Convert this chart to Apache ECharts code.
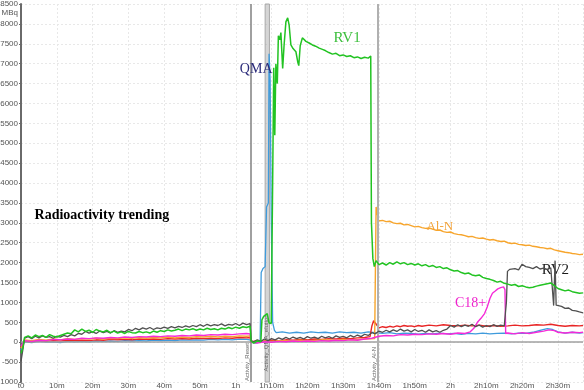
<!DOCTYPE html>
<html><head><meta charset="utf-8">
<script src="https://cdn.jsdelivr.net/npm/echarts@6.0.0/dist/echarts.min.js"></script>
<style>html,body{margin:0;padding:0;background:#fff}#c{width:584px;height:390px}</style>
</head><body><div id="c"></div>
<script>
// x in minutes since t0, y in MBq
const xTickLabels = ['t0','10m','20m','30m','40m','50m','1h','1h10m','1h20m','1h30m','1h40m','1h50m','2h','2h10m','2h20m','2h30m'];

const rv1 = [[0,-280],[0.5,-150],[1,120],[2,160],[3,110],[4,180],[5,140],[6,170],[7,120],[8,190],[9,150],[10,130],[11,170],[12,200],[13,230],[14,210],[15,310],[16,260],[17,330],[18,270],[19,300],[20,250],[21,320],[22,280],[23,260],[24,300],[25,240],[26,280],[27,230],[28,260],[29,220],[30,270],[31,240],[32,230],[33,270],[34,240],[35,260],[36,230],[37,280],[38,250],[39,290],[40,270],[41,310],[42,280],[43,300],[44,330],[45,290],[46,330],[47,310],[48,340],[49,300],[50,330],[51,310],[52,350],[53,320],[54,340],[55,310],[56,350],[57,330],[58,370],[59,340],[60,380],[61,350],[62,390],[63,370],[64,400],[64.3,20],[65,-20],[66,30],[67,10],[67.3,560],[67.8,650],[68.3,600],[68.8,720],[69.3,480],[69.9,470],[70.3,4000],[70.6,6900],[70.9,5200],[71.2,7000],[71.6,6500],[71.9,7700],[72.3,7600],[72.6,7780],[73.1,6880],[73.5,7470],[74,8050],[74.5,8150],[74.9,7975],[75.4,7470],[76,7380],[76.8,7300],[77.3,7050],[77.6,6950],[78,7450],[78.6,7650],[79.6,7560],[80.5,7520],[81.4,7470],[82.3,7440],[83.3,7390],[84.2,7360],[85,7330],[86,7280],[87,7240],[88,7260],[89,7200],[90,7220],[91,7180],[92,7200],[93,7150],[94,7170],[95,7130],[96,7160],[97,7140],[97.7,7190],[97.9,3000],[98.3,2100],[98.7,1900],[99.2,2050],[100,1950],[101,1990],[102,1940],[103,2000],[104,1960],[105,2020],[106,1970],[107,2000],[108,1950],[109,1980],[110,1940],[111,1970],[112,1920],[113,1950],[114,1900],[115,1930],[116,1880],[117,1900],[118,1850],[119,1870],[120,1820],[121,1790],[122,1800],[123,1750],[124,1720],[125,1740],[126,1690],[127,1670],[128,1690],[129,1630],[130,1600],[131,1580],[132,1550],[133,1510],[134,1530],[135,1480],[136,1460],[137,1430],[138,1450],[139,1400],[140,1420],[141,1390],[142,1370],[143,1380],[144,1410],[145,1430],[146,1450],[147,1470],[148,1490],[149,1420],[150,1350],[151,1320],[152,1290],[153,1310],[154,1270],[155,1250],[156,1230],[157,1240]];

const rv2 = [[0,-480],[0.5,-200],[1,100],[2,140],[3,90],[4,150],[5,110],[6,160],[7,120],[8,140],[9,100],[10,150],[11,130],[12,170],[13,140],[14,190],[15,160],[16,220],[17,200],[18,270],[19,230],[20,260],[21,220],[22,280],[23,240],[24,270],[25,230],[26,290],[27,250],[28,280],[29,260],[30,320],[31,290],[32,350],[33,310],[34,360],[35,330],[36,370],[37,320],[38,360],[39,340],[40,380],[41,350],[42,390],[43,360],[44,400],[45,370],[46,410],[47,380],[48,420],[49,390],[50,440],[51,400],[52,450],[53,410],[54,440],[55,420],[56,460],[57,410],[58,450],[59,430],[60,470],[61,420],[62,480],[63,440],[64,470],[64.3,40],[65,10],[66,60],[67,20],[68,80],[69,40],[70,90],[71,60],[72,110],[73,70],[74,120],[75,80],[76,130],[77,90],[78,120],[79,80],[80,140],[81,100],[82,130],[83,90],[84,150],[85,110],[86,140],[87,100],[88,160],[89,120],[90,150],[91,110],[92,170],[93,130],[94,180],[95,140],[96,200],[97,170],[98,240],[99,210],[100,280],[101,250],[102,300],[103,260],[104,310],[105,270],[106,330],[107,280],[108,310],[109,260],[110,320],[111,270],[112,300],[113,250],[114,310],[115,260],[116,290],[117,250],[118,300],[119,330],[120,420],[121,380],[122,440],[123,390],[124,430],[125,400],[126,450],[127,390],[128,430],[129,380],[130,420],[131,390],[132,440],[133,400],[134,430],[135,410],[135.6,1000],[135.9,1780],[136.5,1830],[137,1780],[138,1850],[139,1820],[140,1960],[141,1900],[142,1880],[143,1850],[144,1900],[145,1840],[146,1860],[147,1830],[148,1870],[148.5,1820],[148.8,920],[149.2,2050],[149.5,930],[150,880],[151,900],[152,850],[153,860],[154,800],[155,790],[156,760],[157,740]];

const alN = [[0,-150],[1,60],[3,40],[5,70],[7,50],[9,80],[11,60],[13,90],[15,70],[17,90],[19,80],[21,100],[23,80],[25,100],[27,90],[29,110],[31,100],[33,120],[35,100],[37,120],[39,110],[41,130],[43,110],[45,130],[47,120],[49,140],[51,130],[53,150],[55,130],[57,150],[59,140],[61,160],[63,150],[64,160],[64.3,20],[66,10],[68,30],[70,20],[72,40],[75,30],[78,50],[81,40],[84,60],[87,50],[90,70],[93,60],[96,80],[98.8,90],[99.2,3400],[99.5,3450],[99.9,3050],[101,3060],[102,3030],[103,3040],[104,3000],[105,2980],[106,2990],[107,2950],[108,2960],[109,2930],[110,2900],[111,2910],[112,2880],[113,2860],[114,2870],[115,2840],[116,2810],[117,2820],[118,2780],[119,2760],[120,2770],[121,2730],[122,2710],[123,2700],[124,2680],[125,2650],[126,2660],[127,2630],[128,2610],[129,2620],[130,2590],[131,2570],[132,2580],[133,2550],[134,2530],[135,2540],[136,2500],[137,2480],[138,2490],[139,2460],[140,2450],[141,2430],[142,2440],[143,2410],[144,2400],[145,2380],[146,2370],[147,2350],[148,2360],[149,2320],[150,2300],[151,2280],[152,2260],[153,2250],[154,2230],[155,2220],[156,2200],[157,2210]];

const c18 = [[0,-100],[1,40],[3,20],[5,50],[7,40],[9,70],[11,60],[13,80],[15,70],[17,100],[19,90],[21,110],[23,100],[25,120],[27,110],[29,130],[31,120],[33,140],[35,130],[37,150],[39,140],[41,160],[43,150],[45,170],[47,160],[49,180],[51,170],[53,190],[55,180],[57,200],[59,190],[61,210],[63,220],[64,210],[64.3,0],[66,-20],[68,10],[70,0],[72,20],[74,10],[76,30],[78,20],[80,30],[82,20],[84,40],[86,30],[88,50],[90,40],[92,60],[94,50],[96,80],[98,100],[100,150],[102,170],[104,160],[106,190],[108,180],[110,200],[112,190],[114,210],[116,200],[118,220],[120,200],[122,230],[124,220],[125.5,260],[126.5,350],[127.5,500],[128.5,600],[129.5,720],[130.3,900],[131,1100],[131.7,1230],[132.4,1280],[133.2,1340],[134,1370],[134.8,1390],[135.2,1320],[135.4,220],[136,230],[138,210],[140,240],[142,220],[144,250],[146,280],[147.5,310],[149,290],[150,250],[152,230],[154,250],[156,240],[157,250]];

const red = [[0,-110],[1,30],[3,10],[5,40],[7,20],[9,40],[11,30],[13,50],[15,40],[17,50],[19,40],[21,60],[23,50],[25,70],[27,60],[29,70],[31,60],[33,80],[35,70],[37,80],[39,70],[41,90],[43,80],[45,90],[47,80],[49,100],[51,90],[53,100],[55,90],[57,110],[59,100],[61,120],[63,110],[64,120],[64.3,10],[66,30],[68,20],[70,50],[72,40],[74,60],[76,50],[78,70],[80,60],[82,80],[84,70],[86,90],[88,80],[90,100],[92,90],[94,110],[96,120],[97.5,140],[98,400],[98.5,540],[99,520],[99.5,420],[100,360],[101,390],[102,370],[103,400],[104,380],[105,410],[106,390],[107,420],[108,400],[109,410],[110,390],[111,420],[112,400],[114,430],[116,410],[118,440],[120,420],[122,410],[124,430],[126,410],[128,430],[130,400],[132,420],[134,400],[136,410],[138,430],[140,410],[142,420],[144,440],[146,430],[148,450],[150,420],[152,400],[154,420],[156,410],[157,420]];

const qma = [[0,-200],[0.5,-60],[1,10],[3,-10],[5,20],[7,0],[9,10],[11,-10],[13,20],[15,10],[17,20],[19,10],[21,30],[23,20],[25,30],[27,20],[29,40],[31,30],[33,40],[35,30],[37,50],[39,40],[41,50],[43,40],[45,60],[47,50],[49,60],[51,50],[53,70],[55,60],[57,70],[59,60],[61,80],[63,70],[64,60],[64.3,0],[65.5,-20],[66.8,10],[67.1,1750],[67.6,1850],[68.2,1900],[68.6,3400],[69.1,3500],[69.3,7250],[69.6,6600],[69.9,3200],[70.3,500],[70.8,300],[71.3,240],[73,260],[75,230],[77,250],[79,230],[81,260],[83,240],[85,250],[87,230],[89,260],[91,240],[93,250],[95,230],[97,260],[99,240],[101,220],[103,240],[105,210],[107,230],[109,220],[111,200],[113,220],[115,210],[117,230],[119,210],[121,220],[123,200],[125,220],[127,210],[129,230],[131,210],[133,220],[135,230],[137,210],[139,230],[141,220],[143,250],[145,300],[147,340],[148.5,320],[150,260],[152,230],[154,250],[156,230],[157,240]];

// event markers (minutes)
const events = [
  {t: 64.3, name: 'Activity_Reset'},
  {t: 99.8, name: 'Activity_Al-N'}
];
const band = {from: 68.2, to: 69.4, name: 'Activity_QMA_elution'};

// series annotations in data coordinates [minutes, MBq]
const notes = [
  {text: 'RV1', at: [91.1, 7650], color: '#3cbf3c', size: 15},
  {text: 'QMA', at: [65.7, 6850], color: '#2b2b7a', size: 14},
  {text: 'Al-N', at: [117, 2900], color: '#f2a33a', size: 13},
  {text: 'C18+', at: [125.6, 975], color: '#ee22cc', size: 14},
  {text: 'RV2', at: [149.3, 1825], color: '#1a1a1a', size: 15}
];
const title = {text: 'Radioactivity trending', at: [22.6, 3175]};

const serif = 'Liberation Serif';
function line(name, data, color, width, z, extra) {
  return Object.assign({
    name, type: 'line', data, showSymbol: false, symbol: 'none', z,
    lineStyle: {color, width}, itemStyle: {color}, silent: true
  }, extra || {});
}
function notePoint(n, bold) {
  return {
    coord: n.at, symbol: 'circle', symbolSize: 1, itemStyle: {color: 'rgba(0,0,0,0)'},
    label: {show: true, position: 'inside', formatter: n.text, color: n.color || '#000',
      fontFamily: serif, fontSize: n.size || 14, fontWeight: bold ? 'bold' : 'normal'}
  };
}

const chart = echarts.init(document.getElementById('c'), null, {renderer: 'canvas'});
chart.setOption({
  animation: false,
  backgroundColor: '#fff',
  grid: {left: 21, right: 1, top: 4, bottom: 8, containLabel: false, outerBoundsMode: 'none'},
  xAxis: {
    type: 'value', min: 0, max: 157, interval: 10,
    axisLine: {show: false}, axisTick: {show: false},
    axisLabel: {fontSize: 8, color: '#555', margin: 0, fontFamily: 'Liberation Sans',
      formatter: v => xTickLabels[Math.round(v / 10)] || ''},
    splitLine: {show: true, lineStyle: {color: '#e8e8e8', type: [2, 2], width: 1}}
  },
  yAxis: {
    type: 'value', min: -1000, max: 8500, interval: 500,
    name: 'MBq', nameLocation: 'end', nameGap: -13,
    nameTextStyle: {fontSize: 8, color: '#555', align: 'right', padding: [0, 3, 0, 0], fontFamily: 'Liberation Sans'},
    axisLine: {show: true, lineStyle: {color: '#6a6a6a', width: 2}},
    axisTick: {show: true, length: 2, lineStyle: {color: '#6a6a6a'}},
    axisLabel: {fontSize: 8, color: '#555', margin: 3, fontFamily: 'Liberation Sans', formatter: v => String(v)},
    splitLine: {show: true, lineStyle: {color: '#e8e8e8', type: [2, 2], width: 1}}
  },
  series: [
    line('blue', qma, '#3f9bdc', 1.3, 3, {
      markLine: {
        silent: true, symbol: 'none',
        data: [
          {yAxis: 0, lineStyle: {color: '#a0a0a0', width: 1.5, type: 'solid'}, label: {show: false}},
          {xAxis: events[0].t, lineStyle: {color: '#808080', width: 1.5, type: 'solid'},
            label: {show: true, position: 'insideStartTop', formatter: events[0].name, fontSize: 6, color: '#666', distance: 1}},
          {xAxis: events[1].t, lineStyle: {color: '#b0b0b0', width: 2, type: 'solid'},
            label: {show: true, position: 'insideStartTop', formatter: events[1].name, fontSize: 6, color: '#666', distance: 1}}
        ]
      },
      markArea: {
        silent: true,
        itemStyle: {color: 'rgba(150,150,150,0.4)', borderColor: '#a8a8a8', borderWidth: 1},
        label: {show: true, position: 'insideBottomLeft', rotate: 90, formatter: band.name, fontSize: 6, color: '#666', offset: [6, 0]},
        data: [[{xAxis: band.from}, {xAxis: band.to}]]
      },
      markPoint: {silent: true, data: [notePoint(notes[1])]}
    }),
    line('red', red, '#e82626', 1.4, 4),
    line('magenta', c18, '#f52ad8', 1.4, 5, {markPoint: {silent: true, data: [notePoint(notes[3])]}}),
    line('orange', alN, '#f7a52c', 1.4, 4, {markPoint: {silent: true, data: [notePoint(notes[2])]}}),
    line('gray', rv2, '#505050', 1.3, 6, {markPoint: {silent: true, data: [notePoint(notes[4]), notePoint({text: title.text, at: title.at, color: '#000', size: 14}, true)]}}),
    line('green', rv1, '#22c322', 1.5, 7, {markPoint: {silent: true, data: [notePoint(notes[0])]}})
  ]
});
</script>
</body></html>
